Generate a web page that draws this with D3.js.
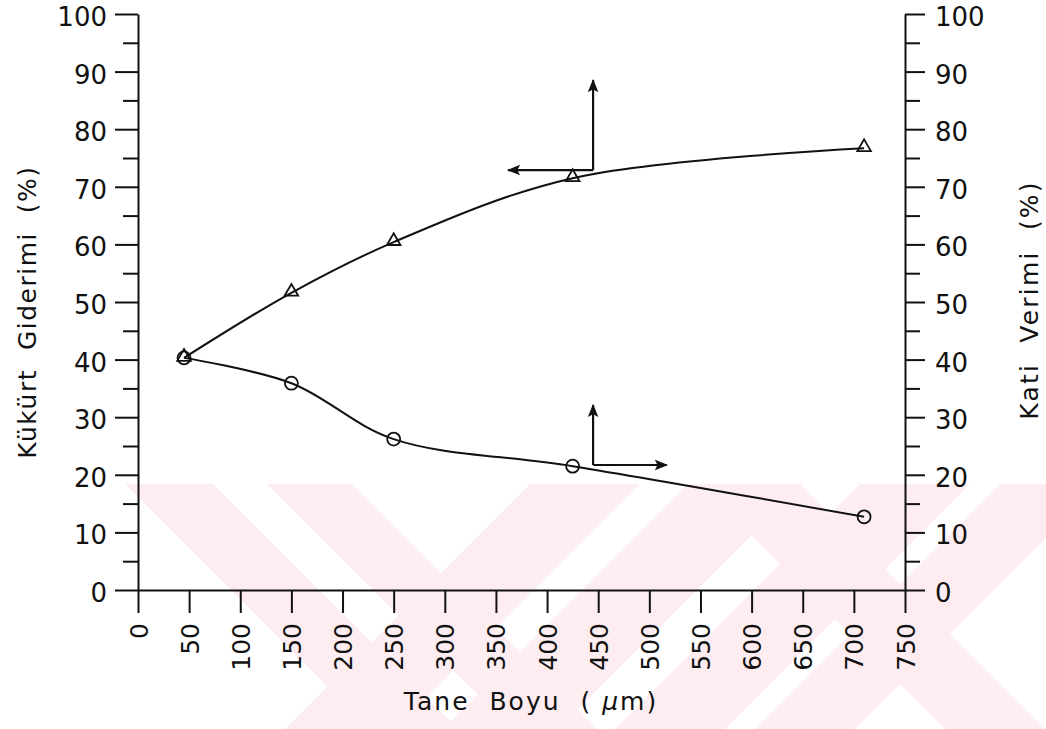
<!DOCTYPE html>
<html>
<head>
    <meta charset="utf-8">
    <script src="https://d3js.org/d3.v7.min.js"></script>
    <style>
        body {
            margin: 0;
            background: #fff;
        }
        svg text {
            font-family: 'DejaVu Sans', sans-serif;
            fill: #111;
            white-space: pre;
        }
    </style>
</head>

<body>
    <div id="my_dataviz"></div>
</body>
<script>
// tane boyu (um) and the two measured series
const sizes = [45, 150, 250, 425, 710];
const sulfurRemoval = [40.3, 51.6, 60.4, 71.5, 76.7];   // triangles, left axis
const solidYield = [40.3, 35.9, 26.2, 21.5, 12.7];      // circles, right axis

const xTicks = d3.range(0, 751, 50);
const yTicks = d3.range(0, 101, 10);
const yMinorTicks = d3.range(5, 100, 10);

// hand-drawn axis pointers: base point, vertical tip, side tip
const pointers = [
  {x: 445, y: 72.9, yTip: 88.5, xTip: 362},
  {x: 445, y: 21.7, yTip: 32.1, xTip: 517}
];

// background watermark stripes (top x, width, direction)
const stripes = [
  {x: 125, w: 88, dir: 1},
  {x: 267, w: 85, dir: 1},
  {x: 530, w: 110, dir: -1},
  {x: 688, w: 115, dir: -1},
  {x: 860, w: 110, dir: -1},
  {x: 1000, w: 100, dir: -1},
  {x: 700, w: 100, dir: 1}
];

const W = 1046, H = 729;

let svg = d3.select("#my_dataviz")
  .append("svg")
    .attr("width", W)
    .attr("height", H);

svg.append("rect").attr("width", W).attr("height", H).attr("fill", "#fff");

// watermark
svg.append("clipPath").attr("id", "wm")
  .append("rect").attr("x", 0).attr("y", 484).attr("width", W).attr("height", H - 484);

svg.append("g")
  .attr("clip-path", "url(#wm)")
  .selectAll("path")
  .data(stripes)
  .join("path")
    .attr("fill", "#fdedf0")
    .attr("d", d => {
      const t = 484, b = H, dx = (b - t) * d.dir;
      return `M${d.x},${t}L${d.x + d.w},${t}L${d.x + d.w + dx},${b}L${d.x + dx},${b}Z`;
    });

let x = d3.scaleLinear().domain([0, 750]).range([138, 905]);
let y = d3.scaleLinear().domain([0, 100]).range([590, 14]);

// X axis
svg.append("g")
  .attr("transform", `translate(0,${y(0)})`)
  .call(d3.axisBottom(x).tickValues(xTicks).tickSize(23).tickSizeOuter(0))
  .call(g => g.selectAll("text")
      .attr("transform", "rotate(-90)")
      .attr("x", -33)
      .attr("y", 0)
      .attr("dy", "0.36em")
      .attr("text-anchor", "end")
      .attr("font-size", 25));

// left axis
svg.append("g")
  .attr("transform", `translate(${x(0)},0)`)
  .call(d3.axisLeft(y).tickValues(yTicks).tickSize(23).tickPadding(8).tickSizeOuter(0))
  .call(g => g.selectAll("text").attr("font-size", 26).attr("dy", "0.44em"));
svg.append("g")
  .attr("transform", `translate(${x(0)},0)`)
  .call(d3.axisLeft(y).tickValues(yMinorTicks).tickSize(15).tickFormat("").tickSizeOuter(0))
  .call(g => g.select(".domain").remove());

// right axis
svg.append("g")
  .attr("transform", `translate(${x(750)},0)`)
  .call(d3.axisRight(y).tickValues(yTicks).tickSize(20).tickPadding(10).tickSizeOuter(0))
  .call(g => g.selectAll("text").attr("font-size", 26).attr("dy", "0.44em"));
svg.append("g")
  .attr("transform", `translate(${x(750)},0)`)
  .call(d3.axisRight(y).tickValues(yMinorTicks).tickSize(15).tickFormat("").tickSizeOuter(0))
  .call(g => g.select(".domain").remove());

svg.selectAll(".domain, .tick line")
  .attr("stroke", "#111")
  .attr("stroke-width", 2);

// axis titles
svg.append("text")
  .attr("transform", "translate(27,312) rotate(-90)")
  .attr("text-anchor", "middle")
  .attr("dominant-baseline", "central")
  .attr("font-size", 25)
  .attr("letter-spacing", 1.5)
  .text("Kükürt  Giderimi  (%)");

svg.append("text")
  .attr("transform", "translate(1029,300) rotate(-90)")
  .attr("text-anchor", "middle")
  .attr("dominant-baseline", "central")
  .attr("font-size", 25)
  .attr("letter-spacing", 2.2)
  .text("Kati  Verimi  (%)");

svg.append("text")
  .attr("x", 531)
  .attr("y", 710)
  .attr("text-anchor", "middle")
  .attr("font-size", 25)
  .attr("letter-spacing", 2)
  .call(t => {
    t.append("tspan").text("Tane  Boyu  ( ");
    t.append("tspan").attr("font-style", "italic").text("μ");
    t.append("tspan").text("m)");
  });

// curves
const line = d3.line()
  .x(d => x(d[0]))
  .y(d => y(d[1]))
  .curve(d3.curveCatmullRom.alpha(0.5));

const upper = sizes.map((s, i) => [s, sulfurRemoval[i]]);
const lower = sizes.map((s, i) => [s, solidYield[i]]);

svg.selectAll("path.curve")
  .data([upper, lower])
  .join("path")
    .attr("class", "curve")
    .attr("fill", "none")
    .attr("stroke", "#111")
    .attr("stroke-width", 2)
    .attr("d", line);

// markers
svg.append("g")
  .selectAll("circle")
  .data(lower)
  .join("circle")
    .attr("cx", d => x(d[0]))
    .attr("cy", d => y(d[1]))
    .attr("r", 6.5)
    .attr("fill", "none")
    .attr("stroke", "#111")
    .attr("stroke-width", 1.8);

const tri = d3.symbol().type(d3.symbolTriangle).size(80);
svg.append("g")
  .selectAll("path")
  .data(upper)
  .join("path")
    .attr("transform", d => `translate(${x(d[0])},${y(d[1]) - 1})`)
    .attr("d", tri)
    .attr("fill", "none")
    .attr("stroke", "#111")
    .attr("stroke-width", 1.8);

// pointers
svg.append("defs").append("marker")
  .attr("id", "head")
  .attr("viewBox", "0 0 10 10")
  .attr("refX", 9)
  .attr("refY", 5)
  .attr("markerWidth", 6)
  .attr("markerHeight", 6)
  .attr("markerUnits", "strokeWidth")
  .attr("orient", "auto")
  .append("path")
    .attr("d", "M0,1L10,5L0,9L2,5Z")
    .attr("fill", "#111");

const arrows = svg.append("g")
  .attr("stroke", "#111")
  .attr("stroke-width", 2.2)
  .attr("marker-end", "url(#head)");

arrows.selectAll("line.v")
  .data(pointers)
  .join("line")
    .attr("class", "v")
    .attr("x1", d => x(d.x))
    .attr("x2", d => x(d.x))
    .attr("y1", d => y(d.y))
    .attr("y2", d => y(d.yTip));

arrows.selectAll("line.h")
  .data(pointers)
  .join("line")
    .attr("class", "h")
    .attr("x1", d => x(d.x))
    .attr("x2", d => x(d.xTip))
    .attr("y1", d => y(d.y))
    .attr("y2", d => y(d.y));
</script>
</html>
